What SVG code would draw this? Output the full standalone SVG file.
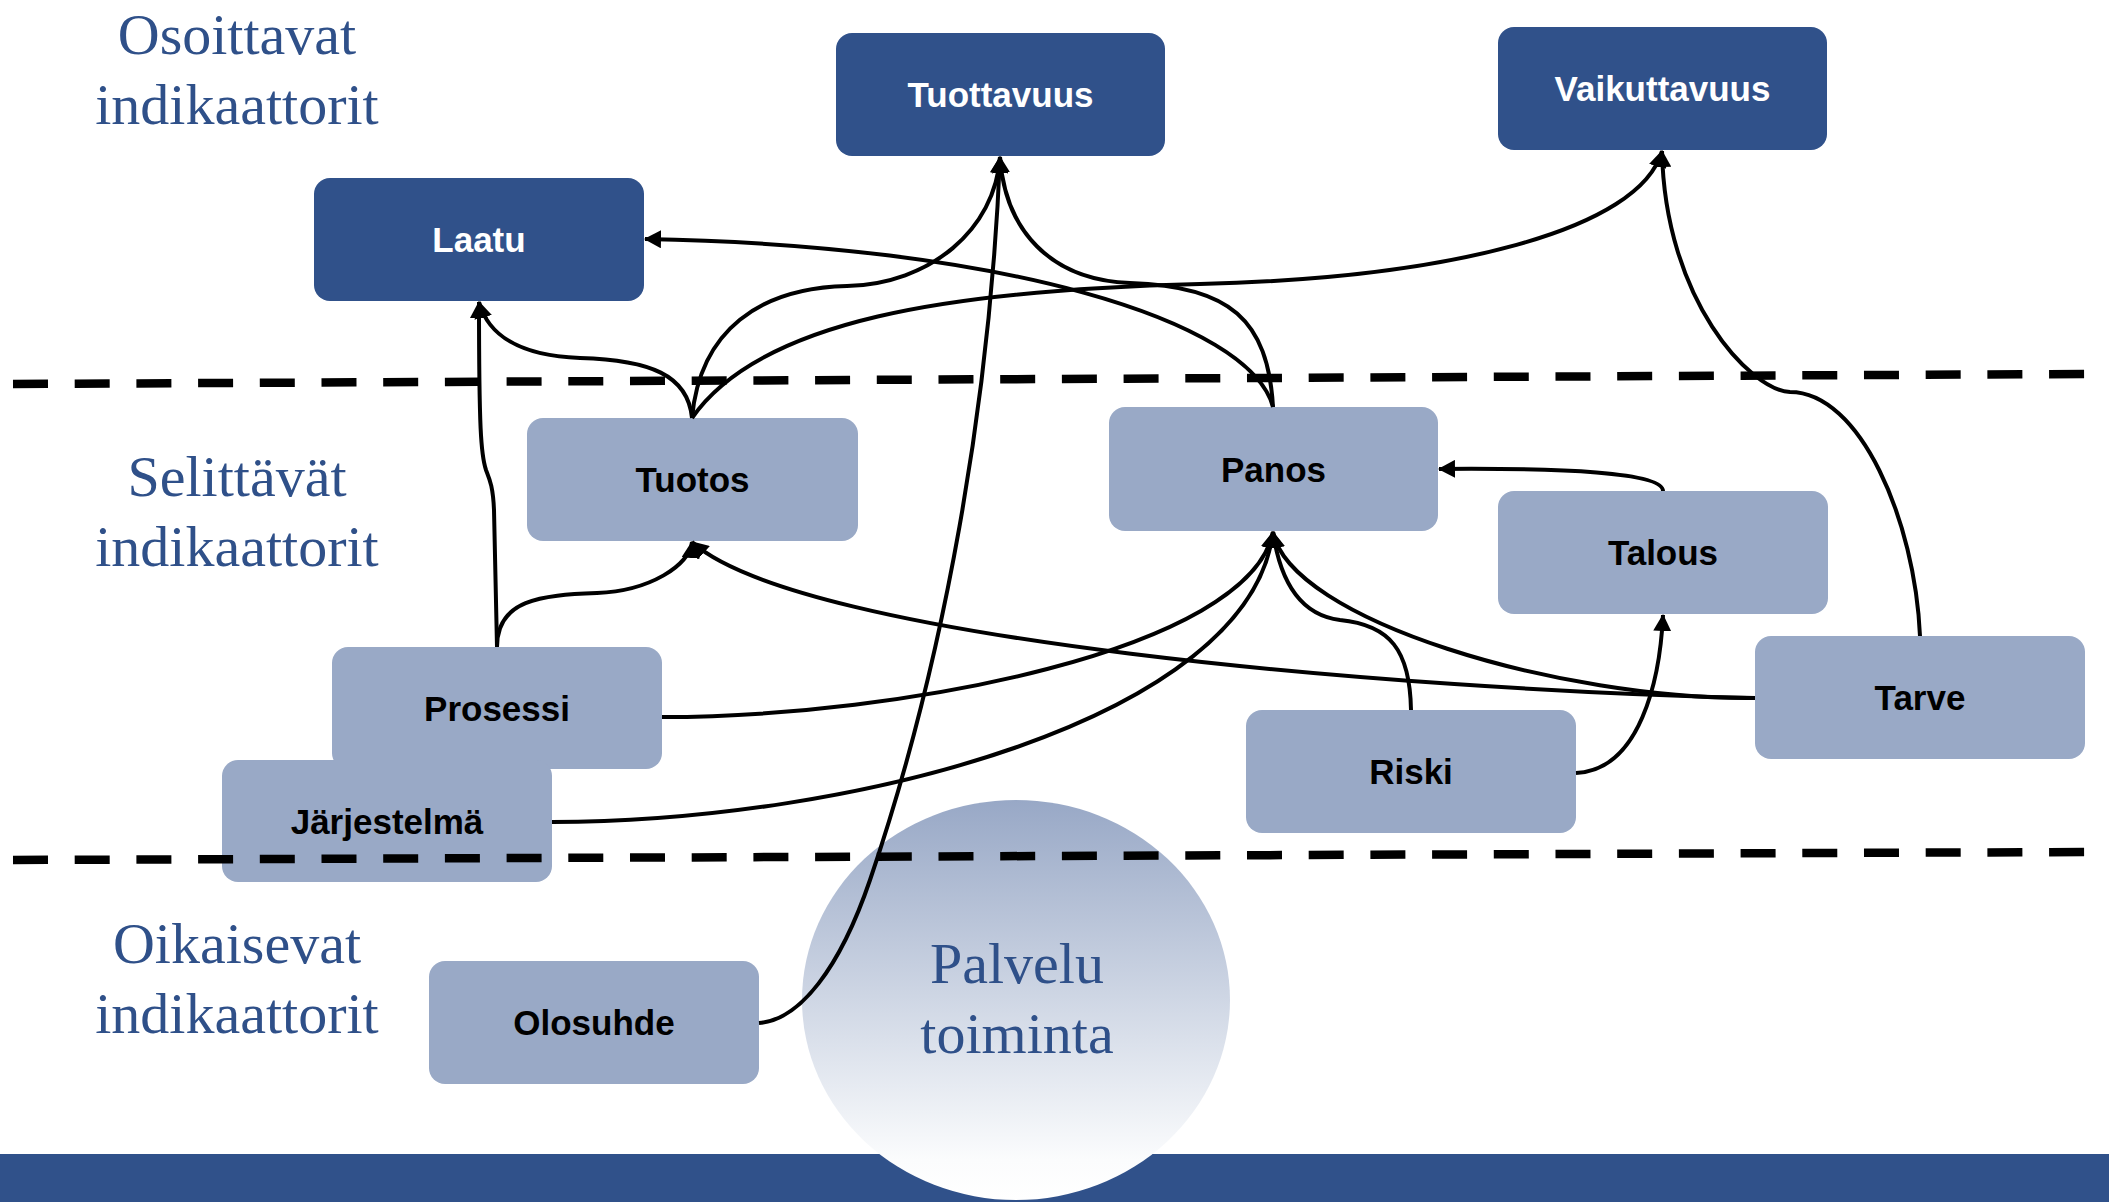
<svg xmlns="http://www.w3.org/2000/svg" width="2109" height="1202" viewBox="0 0 2109 1202">
  <style>
    .dark { fill: #30518A; }
    .light { fill: #99A9C6; }
    .lbl { font-family: "Liberation Sans", Arial, sans-serif; font-weight: bold; font-size: 35px; text-anchor: middle; }
    .lbl-w { fill: #FFFFFF; }
    .lbl-b { fill: #000000; }
    .serif { font-family: "Liberation Serif", "Times New Roman", serif; font-size: 58px; fill: #2F5089; text-anchor: middle; }
    .conn { fill: none; stroke: #000000; stroke-width: 4; marker-end: url(#arr); }
    .dash { fill: none; stroke: #000000; stroke-width: 8.5; stroke-dasharray: 35 26.7; }
  </style>
  <defs>
    <marker id="arr" markerUnits="userSpaceOnUse" markerWidth="18" markerHeight="18" viewBox="0 0 18 18" refX="16" refY="9" orient="auto">
      <path d="M0,0 L17,9 L0,18 z" fill="#000000"/>
    </marker>
    <linearGradient id="palveluGrad" x1="0" y1="0" x2="0" y2="1">
      <stop offset="0" stop-color="#98A8C6"/>
      <stop offset="0.9" stop-color="#FBFCFD"/>
      <stop offset="1" stop-color="#FFFFFF"/>
    </linearGradient>
  </defs>

  <rect x="0" y="0" width="2109" height="1202" fill="#FFFFFF"/>

  <!-- bottom bar -->
  <rect id="bottom-bar" x="0" y="1154" width="2109" height="48" fill="#30518A"/>

  <!-- Palvelu toiminta ellipse -->
  <g id="palvelu">
    <ellipse cx="1016" cy="1000" rx="214" ry="200" fill="url(#palveluGrad)"/>
    <text class="serif" x="1017" y="983">Palvelu</text>
    <text class="serif" x="1017" y="1053">toiminta</text>
  </g>

  <!-- level labels -->
  <g id="label-osoittavat">
    <text class="serif" x="237" y="54">Osoittavat</text>
    <text class="serif" x="237" y="124">indikaattorit</text>
  </g>
  <g id="label-selittavat">
    <text class="serif" x="237" y="496">Selittävät</text>
    <text class="serif" x="237" y="566">indikaattorit</text>
  </g>
  <g id="label-oikaisevat">
    <text class="serif" x="237" y="963">Oikaisevat</text>
    <text class="serif" x="237" y="1033">indikaattorit</text>
  </g>

  <!-- nodes -->
  <g id="node-laatu">
    <rect class="dark" x="314" y="178" width="330" height="123" rx="16"/>
    <text class="lbl lbl-w" x="479" y="252">Laatu</text>
  </g>
  <g id="node-tuottavuus">
    <rect class="dark" x="836" y="33" width="329" height="123" rx="16"/>
    <text class="lbl lbl-w" x="1000.5" y="107">Tuottavuus</text>
  </g>
  <g id="node-vaikuttavuus">
    <rect class="dark" x="1498" y="27" width="329" height="123" rx="16"/>
    <text class="lbl lbl-w" x="1662.5" y="101">Vaikuttavuus</text>
  </g>
  <g id="node-tuotos">
    <rect class="light" x="527" y="418" width="331" height="123" rx="16"/>
    <text class="lbl lbl-b" x="692.5" y="492">Tuotos</text>
  </g>
  <g id="node-panos">
    <rect class="light" x="1109" y="407" width="329" height="124" rx="16"/>
    <text class="lbl lbl-b" x="1273.5" y="481.5">Panos</text>
  </g>
  <g id="node-talous">
    <rect class="light" x="1498" y="491" width="330" height="123" rx="16"/>
    <text class="lbl lbl-b" x="1663" y="565">Talous</text>
  </g>
  <g id="node-tarve">
    <rect class="light" x="1755" y="636" width="330" height="123" rx="16"/>
    <text class="lbl lbl-b" x="1920" y="710">Tarve</text>
  </g>
  <g id="node-riski">
    <rect class="light" x="1246" y="710" width="330" height="123" rx="16"/>
    <text class="lbl lbl-b" x="1411" y="784">Riski</text>
  </g>
  <g id="node-prosessi">
    <rect class="light" x="332" y="647" width="330" height="122" rx="16"/>
    <text class="lbl lbl-b" x="497" y="720.5">Prosessi</text>
  </g>
  <g id="node-jarjestelma">
    <rect class="light" x="222" y="760" width="330" height="122" rx="16"/>
    <text class="lbl lbl-b" x="387" y="833.5">Järjestelmä</text>
  </g>
  <g id="node-olosuhde">
    <rect class="light" x="429" y="961" width="330" height="123" rx="16"/>
    <text class="lbl lbl-b" x="594" y="1035">Olosuhde</text>
  </g>

  <!-- connectors -->
  <g id="connectors">
    <!-- Prosessi -> Laatu -->
    <path class="conn" d="M497,647 L494,510 C493,485 489,478 486,470 C481,455 479,430 479,302"/>
    <!-- Prosessi -> Tuotos -->
    <path class="conn" d="M497,647 C497,600 540,595 597,593 C650,591 690,565 692,542"/>
    <!-- Tuotos -> Laatu -->
    <path class="conn" d="M692,418 C688,375 650,360 580,358 C520,356 488,335 479,302"/>
    <!-- Tuotos -> Tuottavuus -->
    <path class="conn" d="M692,418 C700,330 760,288 847,286 C930,284 995,230 1000,157"/>
    <!-- Tuotos -> Vaikuttavuus -->
    <path class="conn" d="M692,418 C760,320 950,290 1200,284 C1450,278 1640,230 1662,151"/>
    <!-- Panos -> Laatu -->
    <path class="conn" d="M1273,407 C1250,320 1000,245 645,239"/>
    <!-- Panos -> Tuottavuus -->
    <path class="conn" d="M1273,407 C1268,320 1230,286 1130,283 C1050,280 1005,230 1000,157"/>
    <!-- Olosuhde -> Tuottavuus -->
    <path class="conn" d="M759,1023 C800,1020 840,968 870,880 C945,660 990,400 1000,157"/>
    <!-- Järjestelmä -> Panos -->
    <path class="conn" d="M552,822 C850,822 1250,720 1273,532"/>
    <!-- Prosessi -> Panos -->
    <path class="conn" d="M662,717 C900,717 1250,650 1273,532"/>
    <!-- Tarve -> Tuotos -->
    <path class="conn" d="M1755,698 C1400,690 800,640 692,542"/>
    <!-- Tarve -> Panos -->
    <path class="conn" d="M1755,698 C1560,700 1290,620 1273,532"/>
    <!-- Riski -> Panos -->
    <path class="conn" d="M1411,710 C1410,650 1390,625 1340,620 C1300,615 1280,580 1273,532"/>
    <!-- Riski -> Talous -->
    <path class="conn" d="M1576,773 C1640,770 1660,680 1663,615"/>
    <!-- Talous -> Panos -->
    <path class="conn" d="M1663,491 C1663,472 1560,468 1439,469"/>
    <!-- Tarve -> Vaikuttavuus -->
    <path class="conn" d="M1920,636 C1915,520 1860,392 1790,392 C1750,390 1665,300 1662,151"/>
  </g>

  <!-- level separators -->
  <g id="separators">
    <path class="dash" d="M13,384 L2085,374"/>
    <path class="dash" d="M13,860 L2085,852"/>
  </g>
</svg>
